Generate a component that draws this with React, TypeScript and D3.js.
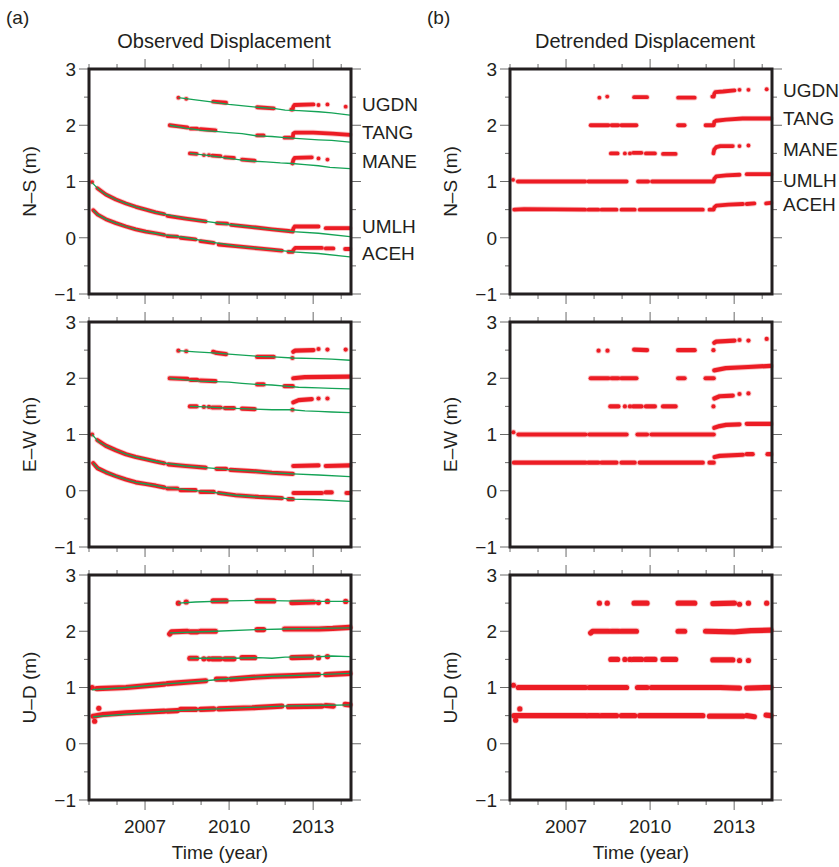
import * as d3 from 'd3';

type Pt = [number, number];
type Seg = Pt[];

// ---- N–S, observed (a) ----
const ugdnNsObs: Seg[] = [
  [[2008.19, 2.49]], [[2008.47, 2.47]],
  [[2009.43, 2.42], [2009.89, 2.40]],
  [[2011.0, 2.32], [2011.59, 2.30]],
  [[2012.22, 2.28], [2012.27, 2.28], [2012.29, 2.33], [2012.33, 2.36], [2013.01, 2.37]],
  [[2013.19, 2.36]], [[2013.51, 2.37]], [[2014.16, 2.33]],
];
const tangNsObs: Seg[] = [
  [[2007.88, 2.0], [2008.2, 1.98], [2008.51, 1.96]],
  [[2008.63, 1.94], [2008.86, 1.94]],
  [[2008.98, 1.93], [2009.51, 1.91]],
  [[2011.0, 1.82], [2011.23, 1.82]],
  [[2011.98, 1.78], [2012.27, 1.78], [2012.29, 1.85], [2012.35, 1.87], [2013.0, 1.87], [2013.7, 1.85], [2014.31, 1.83]],
];
const maneNsObs: Seg[] = [
  [[2008.6, 1.5], [2008.84, 1.49]], [[2009.1, 1.47]], [[2009.28, 1.47]],
  [[2009.4, 1.46], [2009.69, 1.45]],
  [[2009.85, 1.43], [2010.17, 1.42]],
  [[2010.46, 1.39], [2010.91, 1.37]],
  [[2012.26, 1.32], [2012.29, 1.38], [2012.34, 1.42], [2012.95, 1.43]],
  [[2013.19, 1.41]], [[2013.51, 1.39]],
];
const umlhNsObs: Seg[] = [
  [[2005.11, 0.99]],
  [[2005.3, 0.88], [2005.6, 0.77], [2005.96, 0.68], [2006.32, 0.61], [2006.67, 0.55], [2007.03, 0.5], [2007.38, 0.45], [2007.68, 0.42]],
  [[2007.8, 0.39], [2008.45, 0.34], [2009.16, 0.29]],
  [[2009.57, 0.26], [2009.93, 0.25]],
  [[2010.07, 0.23], [2010.82, 0.19], [2011.53, 0.15], [2012.12, 0.12], [2012.27, 0.11], [2012.29, 0.16], [2012.34, 0.2], [2013.19, 0.2]],
  [[2013.45, 0.17], [2014.31, 0.17]],
];
const acehNsObs: Seg[] = [
  [[2005.15, 0.49], [2005.31, 0.41], [2005.6, 0.33], [2005.96, 0.26], [2006.32, 0.2], [2006.67, 0.15], [2007.03, 0.11], [2007.38, 0.08], [2007.68, 0.05]],
  [[2007.8, 0.03], [2008.15, 0.02]],
  [[2008.27, 0.0], [2008.8, -0.03]],
  [[2008.98, -0.06], [2009.45, -0.09]],
  [[2009.63, -0.12], [2010.23, -0.15], [2011.05, -0.19], [2011.88, -0.23]],
  [[2012.12, -0.25], [2012.27, -0.25], [2012.29, -0.22], [2012.36, -0.18], [2013.31, -0.18]],
  [[2013.45, -0.19], [2013.72, -0.19]],
  [[2014.14, -0.2], [2014.31, -0.2]],
];
// fitted trends (green)
const ugdnNsFit: Pt[] = [[2008.19, 2.49], [2008.8, 2.45], [2009.43, 2.41], [2009.99, 2.37], [2011.0, 2.32], [2011.59, 2.3], [2012.0, 2.27], [2012.5, 2.26], [2013.19, 2.24], [2013.66, 2.22], [2014.31, 2.18]];
const tangNsFit: Pt[] = [[2007.88, 2.0], [2008.45, 1.95], [2009.04, 1.91], [2009.51, 1.89], [2009.99, 1.87], [2010.46, 1.85], [2011.0, 1.81], [2011.53, 1.8], [2012.0, 1.78], [2012.24, 1.77], [2013.19, 1.74], [2013.66, 1.73], [2014.31, 1.7]];
const maneNsFit: Pt[] = [[2008.6, 1.5], [2009.16, 1.47], [2009.75, 1.43], [2010.46, 1.38], [2010.91, 1.36], [2011.32, 1.35], [2011.83, 1.33], [2012.24, 1.32], [2012.71, 1.3], [2013.19, 1.28], [2013.6, 1.25], [2014.31, 1.23]];
const umlhNsFit: Pt[] = [[2005.11, 0.98], [2005.34, 0.86], [2005.6, 0.77], [2005.96, 0.68], [2006.32, 0.61], [2006.67, 0.55], [2007.03, 0.5], [2007.38, 0.45], [2007.68, 0.42], [2008.45, 0.34], [2009.16, 0.29], [2009.93, 0.24], [2010.82, 0.19], [2011.53, 0.15], [2012.27, 0.11], [2013.19, 0.08], [2014.31, 0.02]];
const acehNsFit: Pt[] = [[2005.15, 0.49], [2005.31, 0.41], [2005.6, 0.33], [2005.96, 0.26], [2006.32, 0.2], [2006.67, 0.15], [2007.03, 0.11], [2007.38, 0.08], [2007.68, 0.05], [2008.45, 0.0], [2009.16, -0.06], [2010.23, -0.15], [2011.05, -0.19], [2011.88, -0.23], [2012.27, -0.25], [2013.19, -0.28], [2014.31, -0.34]];

// ---- N–S, detrended (b) ----
const ugdnNsDet: Seg[] = [
  [[2008.19, 2.49]], [[2008.47, 2.51]],
  [[2009.43, 2.5], [2009.89, 2.5]],
  [[2011.0, 2.49], [2011.59, 2.49]],
  [[2012.22, 2.51], [2012.27, 2.51], [2012.29, 2.56], [2012.33, 2.59], [2012.6, 2.6], [2013.01, 2.62]],
  [[2013.19, 2.63]], [[2013.51, 2.63]], [[2014.16, 2.64]],
];
const tangNsDet: Seg[] = [
  [[2007.88, 2.0], [2008.51, 2.0]], [[2008.63, 2.0], [2008.86, 2.0]], [[2008.98, 2.0], [2009.51, 2.0]],
  [[2011.0, 2.0], [2011.23, 2.0]],
  [[2011.98, 2.0], [2012.27, 2.0], [2012.29, 2.06], [2012.35, 2.08], [2012.71, 2.1], [2013.3, 2.12], [2014.31, 2.12]],
];
const maneNsDet: Seg[] = [
  [[2008.6, 1.5], [2008.84, 1.5]], [[2009.1, 1.5]], [[2009.28, 1.5]],
  [[2009.4, 1.51], [2009.69, 1.51]], [[2009.85, 1.5], [2010.17, 1.5]], [[2010.46, 1.49], [2010.91, 1.49]],
  [[2012.26, 1.5], [2012.29, 1.57], [2012.36, 1.61], [2012.5, 1.63], [2012.95, 1.63]],
  [[2013.19, 1.63]], [[2013.51, 1.64]],
];
const umlhNsDet: Seg[] = [
  [[2005.11, 1.03]], [[2005.28, 1.0], [2007.68, 1.0]], [[2007.8, 1.0], [2009.16, 1.0]], [[2009.57, 1.0], [2009.93, 1.0]],
  [[2010.07, 1.0], [2012.27, 1.0], [2012.29, 1.05], [2012.36, 1.09], [2012.71, 1.11], [2013.19, 1.12]],
  [[2013.45, 1.13], [2014.31, 1.13]],
];
const acehNsDet: Seg[] = [
  [[2005.15, 0.5], [2005.5, 0.51], [2007.68, 0.5]], [[2007.8, 0.5], [2008.15, 0.5]], [[2008.27, 0.5], [2008.8, 0.5]],
  [[2008.98, 0.5], [2009.45, 0.5]], [[2009.63, 0.5], [2011.88, 0.5]],
  [[2012.12, 0.5], [2012.27, 0.5], [2012.29, 0.54], [2012.36, 0.57], [2012.8, 0.59], [2013.31, 0.6]],
  [[2013.45, 0.6], [2013.72, 0.61]], [[2014.14, 0.61], [2014.31, 0.62]],
];

// ---- E–W, observed (a) ----
const ugdnEwObs: Seg[] = [
  [[2008.19, 2.49]], [[2008.47, 2.48]],
  [[2009.43, 2.47], [2009.55, 2.45], [2009.89, 2.43]],
  [[2011.0, 2.38], [2011.59, 2.38]],
  [[2012.26, 2.36]],
  [[2012.29, 2.47], [2012.35, 2.49], [2013.01, 2.5]],
  [[2013.19, 2.52]], [[2013.51, 2.51]], [[2014.16, 2.51]],
];
const tangEwObs: Seg[] = [
  [[2007.88, 2.0], [2008.51, 1.99]], [[2008.63, 1.97], [2008.86, 1.97]], [[2008.98, 1.96], [2009.51, 1.95]],
  [[2011.0, 1.89], [2011.23, 1.89]], [[2011.98, 1.86], [2012.27, 1.86]],
  [[2012.29, 2.0], [2012.7, 2.02], [2014.31, 2.03]],
];
const maneEwObs: Seg[] = [
  [[2008.6, 1.5], [2008.84, 1.5]], [[2009.1, 1.49]], [[2009.28, 1.49]],
  [[2009.4, 1.48], [2009.69, 1.48]], [[2009.85, 1.47], [2010.17, 1.47]], [[2010.46, 1.46], [2010.91, 1.45]],
  [[2012.26, 1.44]],
  [[2012.29, 1.57], [2012.48, 1.61], [2012.71, 1.62], [2012.95, 1.63]],
  [[2013.19, 1.64]], [[2013.51, 1.64]],
];
const umlhEwObs: Seg[] = [
  [[2005.11, 1.0]],
  [[2005.3, 0.9], [2005.6, 0.8], [2005.96, 0.72], [2006.32, 0.65], [2006.67, 0.6], [2007.03, 0.56], [2007.38, 0.52], [2007.68, 0.49]],
  [[2007.83, 0.47], [2008.45, 0.44], [2009.16, 0.41]],
  [[2009.55, 0.39], [2009.89, 0.39]],
  [[2010.05, 0.37], [2010.82, 0.35], [2011.53, 0.32], [2012.27, 0.3]],
  [[2012.29, 0.44], [2013.19, 0.45]],
  [[2013.45, 0.44], [2014.31, 0.45]],
];
const acehEwObs: Seg[] = [
  [[2005.15, 0.49], [2005.31, 0.4], [2005.6, 0.33], [2005.96, 0.26], [2006.32, 0.2], [2006.67, 0.15], [2007.03, 0.12], [2007.38, 0.09], [2007.68, 0.06]],
  [[2007.8, 0.04], [2008.15, 0.04]], [[2008.27, 0.01], [2008.8, 0.01]], [[2008.98, -0.02], [2009.45, -0.02]],
  [[2009.63, -0.04], [2010.23, -0.08], [2011.05, -0.11], [2011.88, -0.13]],
  [[2012.12, -0.15], [2012.27, -0.15]],
  [[2012.3, -0.04], [2013.31, -0.04]], [[2013.45, -0.03], [2013.66, -0.03]], [[2014.19, -0.04], [2014.31, -0.04]],
];
const ugdnEwFit: Pt[] = [[2008.19, 2.49], [2008.8, 2.47], [2009.43, 2.45], [2009.99, 2.43], [2011.0, 2.39], [2011.59, 2.38], [2012.26, 2.36], [2013.19, 2.35], [2013.66, 2.34], [2014.31, 2.32]];
const tangEwFit: Pt[] = [[2007.88, 2.0], [2008.45, 1.97], [2008.98, 1.95], [2009.51, 1.94], [2009.99, 1.93], [2010.46, 1.91], [2011.0, 1.89], [2011.53, 1.88], [2012.0, 1.86], [2012.48, 1.84], [2013.19, 1.83], [2013.66, 1.82], [2014.31, 1.81]];
const maneEwFit: Pt[] = [[2008.6, 1.5], [2009.16, 1.49], [2009.87, 1.47], [2010.46, 1.46], [2010.91, 1.45], [2011.53, 1.44], [2012.26, 1.44], [2012.71, 1.42], [2013.19, 1.41], [2013.66, 1.4], [2014.31, 1.39]];
const umlhEwFit: Pt[] = [[2005.11, 1.0], [2005.34, 0.87], [2005.6, 0.8], [2005.96, 0.72], [2006.32, 0.65], [2006.67, 0.6], [2007.03, 0.56], [2007.38, 0.52], [2007.68, 0.49], [2008.45, 0.44], [2009.16, 0.41], [2009.89, 0.38], [2010.82, 0.35], [2011.53, 0.32], [2012.27, 0.3], [2013.19, 0.28], [2014.31, 0.25]];
const acehEwFit: Pt[] = [[2005.15, 0.49], [2005.31, 0.4], [2005.6, 0.33], [2005.96, 0.26], [2006.32, 0.2], [2006.67, 0.15], [2007.03, 0.12], [2007.38, 0.09], [2007.68, 0.06], [2008.45, 0.02], [2009.45, -0.03], [2010.23, -0.08], [2011.05, -0.11], [2011.88, -0.13], [2012.27, -0.15], [2013.19, -0.16], [2014.31, -0.19]];

// ---- E–W, detrended (b) ----
const ugdnEwDet: Seg[] = [
  [[2008.16, 2.49]], [[2008.48, 2.49]], [[2009.43, 2.51], [2009.89, 2.5]], [[2011.0, 2.5], [2011.59, 2.5]],
  [[2012.26, 2.5]], [[2012.29, 2.63], [2012.35, 2.65], [2013.01, 2.67]],
  [[2013.19, 2.68]], [[2013.51, 2.67]], [[2014.16, 2.7]],
];
const tangEwDet: Seg[] = [
  [[2007.88, 2.0], [2008.51, 2.0]], [[2008.63, 2.0], [2008.86, 2.0]], [[2008.98, 2.0], [2009.51, 2.0]],
  [[2011.0, 2.0], [2011.23, 2.0]], [[2011.98, 2.0], [2012.27, 2.0]],
  [[2012.29, 2.14], [2012.7, 2.18], [2013.5, 2.2], [2014.31, 2.22]],
];
const maneEwDet: Seg[] = [
  [[2008.58, 1.5], [2008.87, 1.5]], [[2009.1, 1.5]], [[2009.28, 1.5]], [[2009.4, 1.5], [2009.69, 1.5]],
  [[2009.85, 1.5], [2010.17, 1.5]], [[2010.46, 1.5], [2010.91, 1.5]], [[2012.26, 1.5]],
  [[2012.29, 1.64], [2012.48, 1.68], [2012.95, 1.69]], [[2013.19, 1.72]], [[2013.51, 1.73]],
];
const umlhEwDet: Seg[] = [
  [[2005.12, 1.04]], [[2005.3, 1.0], [2007.69, 1.0]], [[2007.83, 1.0], [2009.16, 1.0]], [[2009.55, 1.0], [2009.89, 1.0]],
  [[2010.05, 1.0], [2012.27, 1.0]],
  [[2012.29, 1.12], [2012.48, 1.15], [2012.71, 1.17], [2013.19, 1.18]], [[2013.45, 1.19], [2014.31, 1.19]],
];
const acehEwDet: Seg[] = [
  [[2005.14, 0.5], [2007.69, 0.5]], [[2007.8, 0.5], [2008.15, 0.5]], [[2008.27, 0.5], [2008.8, 0.5]],
  [[2008.98, 0.5], [2009.45, 0.5]], [[2009.63, 0.5], [2011.88, 0.5]], [[2012.12, 0.5], [2012.27, 0.5]],
  [[2012.3, 0.6], [2012.48, 0.62], [2013.31, 0.64]], [[2013.45, 0.65], [2013.66, 0.65]], [[2014.19, 0.65], [2014.31, 0.65]],
];

// ---- U–D, observed (a) ----
const ugdnUdObs: Seg[] = [
  [[2008.19, 2.5]], [[2008.47, 2.52]], [[2009.43, 2.54], [2009.89, 2.54]], [[2011.0, 2.54], [2011.59, 2.54]],
  [[2012.24, 2.51], [2013.01, 2.52]], [[2013.19, 2.51]], [[2013.51, 2.53]], [[2014.16, 2.53]],
];
const tangUdObs: Seg[] = [
  [[2007.88, 1.95], [2007.95, 1.99], [2008.51, 2.0]], [[2008.63, 1.99], [2008.86, 1.99]], [[2008.98, 2.0], [2009.51, 2.0]],
  [[2011.0, 2.03], [2011.23, 2.03]],
  [[2011.98, 2.04], [2012.6, 2.04], [2013.2, 2.04], [2013.7, 2.05], [2014.31, 2.07]],
];
const maneUdObs: Seg[] = [
  [[2008.6, 1.52], [2008.84, 1.52]], [[2009.1, 1.51]], [[2009.28, 1.51]], [[2009.4, 1.51], [2009.69, 1.51]],
  [[2009.85, 1.51], [2010.17, 1.51]], [[2010.46, 1.53], [2010.91, 1.53]],
  [[2012.24, 1.53], [2012.95, 1.54]], [[2013.19, 1.53]], [[2013.51, 1.55]],
];
const umlhUdObs: Seg[] = [
  [[2005.11, 1.0]], [[2005.28, 0.98], [2006.32, 1.0], [2007.68, 1.06]], [[2007.8, 1.07], [2009.16, 1.12]],
  [[2009.55, 1.15], [2009.89, 1.15]],
  [[2010.05, 1.15], [2010.82, 1.18], [2011.53, 1.2], [2012.3, 1.21], [2013.19, 1.23]],
  [[2013.45, 1.23], [2014.31, 1.25]],
];
const acehUdObs: Seg[] = [
  [[2005.15, 0.49], [2005.5, 0.52], [2006.32, 0.55], [2007.68, 0.58]], [[2007.8, 0.58], [2008.15, 0.59]],
  [[2008.27, 0.61], [2008.8, 0.61]], [[2008.98, 0.61], [2009.45, 0.62]],
  [[2009.63, 0.62], [2010.82, 0.64], [2011.88, 0.67]], [[2012.12, 0.66], [2013.31, 0.67]],
  [[2013.45, 0.68], [2013.72, 0.67]], [[2014.14, 0.7], [2014.31, 0.69]],
  [[2005.2, 0.4]], [[2005.35, 0.63]],
];
const ugdnUdFit: Pt[] = [[2008.19, 2.5], [2008.8, 2.52], [2009.99, 2.54], [2011.0, 2.55], [2012.0, 2.54], [2012.95, 2.53], [2014.31, 2.53]];
const tangUdFit: Pt[] = [[2007.88, 1.97], [2009.51, 2.0], [2011.0, 2.03], [2012.0, 2.04], [2013.19, 2.05], [2014.31, 2.06]];
const maneUdFit: Pt[] = [[2008.6, 1.52], [2010.17, 1.52], [2011.05, 1.53], [2011.53, 1.52], [2012.0, 1.54], [2012.95, 1.54], [2013.66, 1.56], [2014.31, 1.55]];
const umlhUdFit: Pt[] = [[2005.11, 0.96], [2006.32, 1.0], [2007.68, 1.06], [2009.16, 1.12], [2009.99, 1.16], [2011.53, 1.2], [2013.19, 1.23], [2014.31, 1.25]];
const acehUdFit: Pt[] = [[2005.15, 0.48], [2007.68, 0.58], [2009.63, 0.62], [2011.88, 0.67], [2013.19, 0.68], [2014.31, 0.69]];

// ---- U–D, detrended (b) ----
const ugdnUdDet: Seg[] = [
  [[2008.19, 2.5]], [[2008.47, 2.5]], [[2009.43, 2.5], [2009.89, 2.5]], [[2011.0, 2.5], [2011.59, 2.5]],
  [[2012.24, 2.49], [2013.01, 2.5]], [[2013.19, 2.48]], [[2013.51, 2.5]], [[2014.16, 2.5]],
];
const tangUdDet: Seg[] = [
  [[2007.88, 1.97], [2007.95, 2.0], [2008.51, 2.0]], [[2008.63, 2.0], [2008.86, 2.0]], [[2008.98, 2.0], [2009.51, 2.0]],
  [[2011.0, 2.0], [2011.23, 2.0]], [[2011.98, 2.0], [2013.0, 1.99], [2013.6, 2.01], [2014.31, 2.02]],
];
const maneUdDet: Seg[] = [
  [[2008.6, 1.5], [2008.84, 1.5]], [[2009.1, 1.5]], [[2009.28, 1.5]], [[2009.4, 1.5], [2009.69, 1.5]],
  [[2009.85, 1.5], [2010.17, 1.5]], [[2010.46, 1.5], [2010.91, 1.5]],
  [[2012.24, 1.49], [2012.95, 1.49]], [[2013.19, 1.48]], [[2013.51, 1.48]],
];
const umlhUdDet: Seg[] = [
  [[2005.12, 1.04]], [[2005.3, 1.0], [2007.69, 1.0]], [[2007.83, 1.0], [2009.16, 1.0]], [[2009.55, 1.0], [2009.89, 1.0]],
  [[2010.05, 1.0], [2012.5, 1.0], [2013.19, 0.99]], [[2013.45, 0.99], [2014.31, 1.0]],
];
const acehUdDet: Seg[] = [
  [[2005.14, 0.5], [2007.69, 0.5]], [[2007.8, 0.5], [2008.15, 0.5]], [[2008.27, 0.5], [2008.8, 0.5]],
  [[2008.98, 0.5], [2009.45, 0.5]], [[2009.63, 0.5], [2011.88, 0.5]], [[2012.12, 0.49], [2013.31, 0.49]],
  [[2013.45, 0.5], [2013.72, 0.48]], [[2014.14, 0.51], [2014.31, 0.5]],
  [[2005.2, 0.42]], [[2005.35, 0.62]],
];

// axes
const xDomain: [number, number] = [2005, 2014.35];
const yDomain: [number, number] = [-1, 3];
const yearLabels = [2007, 2010, 2013];
const yearTicks = d3.range(2005, 2015);
const yLabels = [-1, 0, 1, 2, 3];
const yTicks = d3.range(-1, 3.01, 0.5);
const stations = ['UGDN', 'TANG', 'MANE', 'UMLH', 'ACEH'];
const obsLabelAt = [2.38, 1.87, 1.36, 0.21, -0.28];
const detLabelAt = [2.63, 2.12, 1.57, 1.03, 0.6];
const components = ['N–S (m)', 'E–W (m)', 'U–D (m)'];

const W = 262;
const H = 225;
const colLeft = [89, 510];
const rowTop = [69, 322, 575];
const RED = '#ec1c24';
const GREEN = '#14a356';
const FONT = '"Liberation Sans", Arial, Helvetica, sans-serif';
const fmt = (v: number) => (v < 0 ? '\u2212' + Math.abs(v) : String(v));

interface PanelProps {
  left: number;
  top: number;
  obs: Seg[][];
  fits?: Pt[][];
  ylabel: string;
  thick: number;
  title?: string;
  labelAt?: number[];
  bottom?: boolean;
}

function Panel({ left, top, obs, fits, ylabel, thick, title, labelAt, bottom }: PanelProps) {
  const x = d3.scaleLinear().domain(xDomain).range([0, W]);
  const y = d3.scaleLinear().domain(yDomain).range([H, 0]);
  const line = d3.line<Pt>().x(d => x(d[0])).y(d => y(d[1]));
  const tickCol = '#6a6a6a';
  return (
    <g transform={`translate(${left},${top})`} fontFamily={FONT} fill="#231f20">
      {title && (
        <text x={W / 2 + 4} y={-21} fontSize={20} textAnchor="middle">{title}</text>
      )}
      {/* ticks */}
      {yearTicks.map(t => {
        const len = yearLabels.includes(t) ? 10 : 5;
        return (
          <g key={'xt' + t} stroke={tickCol} strokeWidth={1}>
            <line x1={x(t)} x2={x(t)} y1={0} y2={-len} />
            <line x1={x(t)} x2={x(t)} y1={H} y2={H + len} />
          </g>
        );
      })}
      {yTicks.map(v => {
        const len = Number.isInteger(v) ? 10 : 5;
        return (
          <g key={'yt' + v} stroke={tickCol} strokeWidth={1}>
            <line x1={0} x2={-len} y1={y(v)} y2={y(v)} />
            <line x1={W} x2={W + len} y1={y(v)} y2={y(v)} />
          </g>
        );
      })}
      {yLabels.map(v => (
        <text key={'yl' + v} x={-13} y={y(v) + 6.8} fontSize={19} textAnchor="end">{fmt(v)}</text>
      ))}
      {bottom && yearLabels.map(t => (
        <text key={'xl' + t} x={x(t)} y={H + 33} fontSize={19} textAnchor="middle">{t}</text>
      ))}
      {bottom && (
        <text x={W / 2} y={H + 59} fontSize={19} textAnchor="middle">Time (year)</text>
      )}
      <text transform={`translate(-53,${H / 2}) rotate(-90)`} fontSize={19} textAnchor="middle">{ylabel}</text>
      {/* observations */}
      {obs.map((segs, si) => (
        <g key={'s' + si}>
          {segs.map((seg, k) =>
            seg.length === 1 ? (
              <g key={k}>
                <circle cx={x(seg[0][0])} cy={y(seg[0][1])} r={thick / 2 + 0.8} fill={RED} opacity={0.25} />
                <circle cx={x(seg[0][0])} cy={y(seg[0][1])} r={thick / 2} fill={RED} />
              </g>
            ) : (
              <g key={k} fill="none" strokeLinecap="round" strokeLinejoin="round">
                <path d={line(seg) || ''} stroke={RED} strokeWidth={thick + 1.6} opacity={0.25} />
                <path d={line(seg) || ''} stroke={RED} strokeWidth={thick} />
              </g>
            )
          )}
        </g>
      ))}
      {fits && fits.map((f, i) => (
        <path key={'f' + i} d={line(f) || ''} fill="none" stroke={GREEN} strokeWidth={1.3} />
      ))}
      {labelAt && stations.map((s, i) => (
        <text key={s} x={W + 11} y={y(labelAt[i]) + 6.8} fontSize={19}>{s}</text>
      ))}
      <rect x={0} y={0} width={W} height={H} fill="none" stroke="#231f20" strokeWidth={3} />
    </g>
  );
}

const obsRows: Seg[][][] = [
  [ugdnNsObs, tangNsObs, maneNsObs, umlhNsObs, acehNsObs],
  [ugdnEwObs, tangEwObs, maneEwObs, umlhEwObs, acehEwObs],
  [ugdnUdObs, tangUdObs, maneUdObs, umlhUdObs, acehUdObs],
];
const fitRows: Pt[][][] = [
  [ugdnNsFit, tangNsFit, maneNsFit, umlhNsFit, acehNsFit],
  [ugdnEwFit, tangEwFit, maneEwFit, umlhEwFit, acehEwFit],
  [ugdnUdFit, tangUdFit, maneUdFit, umlhUdFit, acehUdFit],
];
const detRows: Seg[][][] = [
  [ugdnNsDet, tangNsDet, maneNsDet, umlhNsDet, acehNsDet],
  [ugdnEwDet, tangEwDet, maneEwDet, umlhEwDet, acehEwDet],
  [ugdnUdDet, tangUdDet, maneUdDet, umlhUdDet, acehUdDet],
];
const thickness = [3.8, 4.2, 5.2];

export default function App() {
  return (
    <svg width={839} height={867} style={{ position: 'absolute', left: 0, top: 0, background: '#fff' }}>
      <text x={6} y={24} fontSize={19} fontFamily={FONT} fill="#231f20">(a)</text>
      <text x={427} y={24} fontSize={19} fontFamily={FONT} fill="#231f20">(b)</text>
      {components.map((c, r) => (
        <g key={c}>
          <Panel
            left={colLeft[0]} top={rowTop[r]} obs={obsRows[r]} fits={fitRows[r]} ylabel={c} thick={thickness[r]}
            title={r === 0 ? 'Observed Displacement' : undefined}
            labelAt={r === 0 ? obsLabelAt : undefined}
            bottom={r === 2}
          />
          <Panel
            left={colLeft[1]} top={rowTop[r]} obs={detRows[r]} ylabel={c} thick={thickness[r]}
            title={r === 0 ? 'Detrended Displacement' : undefined}
            labelAt={r === 0 ? detLabelAt : undefined}
            bottom={r === 2}
          />
        </g>
      ))}
    </svg>
  );
}
